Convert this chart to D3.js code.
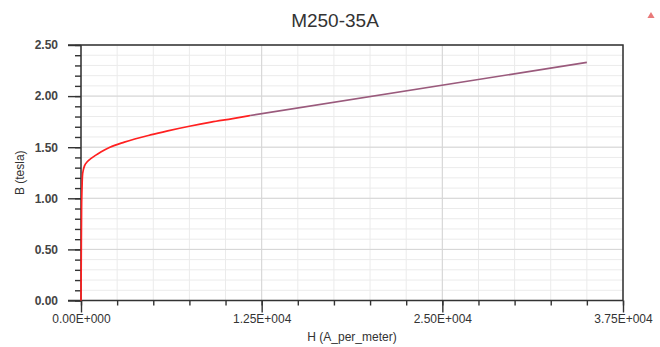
<!DOCTYPE html>
<html>
<head>
<meta charset="utf-8">
<script src="https://cdn.jsdelivr.net/npm/d3@7"></script>
<style>
  body { margin: 0; background: #fff; }
  svg { display: block; font-family: "Liberation Sans", Arial, sans-serif; }
</style>
</head>
<body>
<svg id="chart" width="660" height="347"></svg>
<script>
/* ================================
   DATA
================================ */

// measured B-H points (red)
const hMeasured = [0, 20, 40, 60, 80, 100, 150, 250, 450, 700, 1000, 1400, 2000, 3000, 4800, 6000, 7500, 9000, 10500, 11700];
const bMeasured = [0, 0.50, 0.90, 1.05, 1.15, 1.22, 1.27, 1.32, 1.36, 1.39, 1.42, 1.455, 1.50, 1.55, 1.62, 1.66, 1.705, 1.745, 1.78, 1.81];

// extrapolated tail (purple)
const hExtrap = [11700, 35000];
const bExtrap = [1.81, 2.33];

const xTicks = [0, 12500, 25000, 37500];
const yTicks = [0, 0.5, 1.0, 1.5, 2.0, 2.5];

const title = "M250-35A";
const xLabel = "H (A_per_meter)";
const yLabel = "B (tesla)";

/* ================================
   CHART
================================ */

const svg = d3.select("#chart");
const width = 660, height = 347;
const margin = { top: 45, right: 37, bottom: 46.5, left: 81 };
const x0 = margin.left, x1 = width - margin.right;
const y0 = height - margin.bottom, y1 = margin.top;

const x = d3.scaleLinear().domain([0, 37500]).range([x0, x1]);
const y = d3.scaleLinear().domain([0, 2.5]).range([y0, y1]);

const xMinor = d3.range(0, 37500 + 1, 2500);
const yMinor = d3.range(0, 26).map(i => i / 10);

// minor grid
const grid = svg.append("g");
grid.selectAll(".vx").data(xMinor).join("line")
  .attr("x1", d => x(d)).attr("x2", d => x(d))
  .attr("y1", y1).attr("y2", y0)
  .attr("stroke", "#ebebeb").attr("stroke-width", 1);
grid.selectAll(".hy").data(yMinor).join("line")
  .attr("x1", x0).attr("x2", x1)
  .attr("y1", d => y(d)).attr("y2", d => y(d))
  .attr("stroke", "#ebebeb").attr("stroke-width", 1);

// major grid
grid.selectAll(".vmx").data(xTicks).join("line")
  .attr("x1", d => x(d)).attr("x2", d => x(d))
  .attr("y1", y1).attr("y2", y0)
  .attr("stroke", "#d5d5d5").attr("stroke-width", 1);
grid.selectAll(".hmy").data(yTicks).join("line")
  .attr("x1", x0).attr("x2", x1)
  .attr("y1", d => y(d)).attr("y2", d => y(d))
  .attr("stroke", "#d5d5d5").attr("stroke-width", 1);

// curves
const line = d3.line().x(d => x(d[0])).y(d => y(d[1])).curve(d3.curveMonotoneX);

svg.append("path")
  .datum(d3.zip(hExtrap, bExtrap))
  .attr("d", line)
  .attr("fill", "none")
  .attr("stroke", "#9a5a7c")
  .attr("stroke-width", 1.7);

// minor ticks
svg.append("g")
  .attr("transform", `translate(0,${y0})`)
  .call(d3.axisBottom(x).tickValues(xMinor).tickSize(5).tickFormat(""))
  .call(g => g.select(".domain").remove())
  .selectAll("line").attr("stroke", "#333").attr("stroke-width", 1.4);

svg.append("g")
  .attr("transform", `translate(${x0},0)`)
  .call(d3.axisLeft(y).tickValues(yMinor).tickSize(6).tickFormat(""))
  .call(g => g.select(".domain").remove())
  .selectAll("line").attr("stroke", "#333").attr("stroke-width", 1.4);

// format like 1.25E+004
const sciFormat = v => {
  if (v === 0) return "0.00E+000";
  const e = Math.floor(Math.log10(Math.abs(v)));
  const m = v / Math.pow(10, e);
  return m.toFixed(2) + "E+" + String(e).padStart(3, "0");
};

// major axes
const xAxis = svg.append("g")
  .attr("transform", `translate(0,${y0})`)
  .call(d3.axisBottom(x).tickValues(xTicks).tickSize(12).tickPadding(2).tickFormat(sciFormat));
xAxis.select(".domain").attr("d", `M${x0 - 13},0H${x1}`);
xAxis.selectAll("line").attr("stroke", "#333").attr("stroke-width", 1.4);
xAxis.selectAll("text")
  .style("font-family", "'Liberation Sans', Arial, sans-serif")
  .style("font-size", "12px")
  .attr("fill", "#333");

const yAxis = svg.append("g")
  .attr("transform", `translate(${x0},0)`)
  .call(d3.axisLeft(y).tickValues(yTicks).tickSize(13).tickPadding(10).tickFormat(d3.format(".2f")));
yAxis.select(".domain").attr("d", `M0,${y0}V${y1}`);
yAxis.selectAll("line").attr("stroke", "#333").attr("stroke-width", 1.4);
yAxis.selectAll("text")
  .style("font-family", "'Liberation Sans', Arial, sans-serif")
  .style("font-size", "12px")
  .style("font-weight", "bold")
  .attr("fill", "#444");

svg.selectAll(".domain").attr("stroke", "#333").attr("stroke-width", 1.5);

// top and right frame
svg.append("path")
  .attr("d", `M${x0 - 13},${y1}H${x1}V${y0}`)
  .attr("fill", "none")
  .attr("stroke", "#333")
  .attr("stroke-width", 1.5);

svg.append("path")
  .datum(d3.zip(hMeasured, bMeasured))
  .attr("d", line)
  .attr("fill", "none")
  .attr("stroke", "#ff2020")
  .attr("stroke-width", 1.7);

// labels
svg.append("text")
  .attr("x", 335).attr("y", 27)
  .attr("text-anchor", "middle")
  .style("font-size", "19px")
  .attr("fill", "#333")
  .text(title);

svg.append("text")
  .attr("x", (x0 + x1) / 2).attr("y", 341)
  .attr("text-anchor", "middle")
  .style("font-size", "12px")
  .attr("fill", "#333")
  .text(xLabel);

svg.append("text")
  .attr("transform", `translate(24,${(y0 + y1) / 2}) rotate(-90)`)
  .attr("text-anchor", "middle")
  .style("font-size", "12px")
  .attr("fill", "#333")
  .text(yLabel);

// small marker icon, top right
svg.append("path")
  .attr("d", d3.symbol(d3.symbolTriangle, 22)())
  .attr("transform", "translate(651,16)")
  .attr("fill", "#e04040")
  .attr("opacity", 0.7);
</script>
</body>
</html>
